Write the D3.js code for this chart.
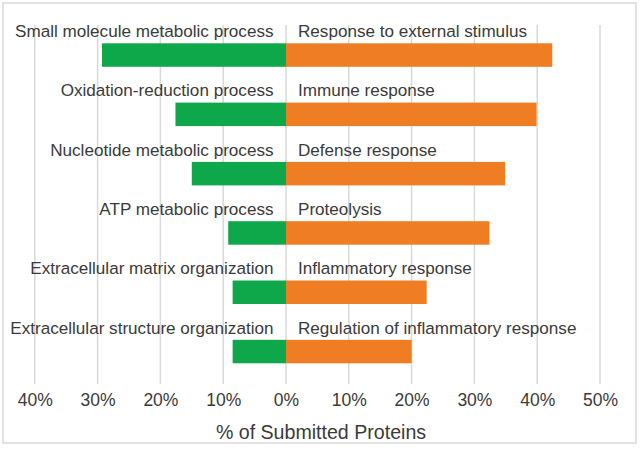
<!DOCTYPE html>
<html>
<head>
<meta charset="utf-8">
<script src="https://cdn.jsdelivr.net/npm/d3@7"></script>
<style>
  html, body { margin: 0; padding: 0; background: #fff; }
  svg { display: block; }
  text { font-family: "Liberation Sans", Arial, sans-serif; fill: #3a3a3a; }
</style>
</head>
<body>
<svg id="chart" width="641" height="450"></svg>
<script>
// Data
const leftLabels = ["Small molecule metabolic process", "Oxidation-reduction process", "Nucleotide metabolic process", "ATP metabolic process", "Extracellular matrix organization", "Extracellular structure organization"];
const leftValues = [29.3, 17.6, 15.0, 9.2, 8.5, 8.5];
const rightLabels = ["Response to external stimulus", "Immune response", "Defense response", "Proteolysis", "Inflammatory response", "Regulation of inflammatory response"];
const rightValues = [42.4, 39.9, 34.9, 32.4, 22.4, 20.0];
const tickValues = [-40, -30, -20, -10, 0, 10, 20, 30, 40, 50];
const axisTitle = "% of Submitted Proteins";

const svg = d3.select("#chart");

// frame
svg.append("rect").attr("x", 3).attr("y", 3).attr("width", 633).attr("height", 440)
  .attr("fill", "#fff").attr("stroke", "#d9d9d9").attr("stroke-width", 1.5);

const x = d3.scaleLinear().domain([-40, 50]).range([34.8, 600]);
const rows = d3.range(leftLabels.length);
const y = d3.scaleBand().domain(rows).range([25.4, 381.2]).paddingInner(0.604).paddingOuter(0.302);

// gridlines
svg.append("g").selectAll("line").data(tickValues).join("line")
  .attr("x1", d => x(d)).attr("x2", d => x(d))
  .attr("y1", 25).attr("y2", 384)
  .attr("stroke", "#d9d9d9").attr("stroke-width", 1.5);

// axis tick labels
const axis = d3.axisBottom(x).tickValues(tickValues).tickSize(0).tickPadding(0)
  .tickFormat(d => Math.abs(d) + "%");
const ax = svg.append("g").attr("transform", "translate(0,400)").call(axis);
ax.select(".domain").remove();
ax.selectAll("text").attr("font-size", 17.5).attr("dy", "0.35em").attr("fill", "#3a3a3a")
  .style("font-family", "'Liberation Sans', Arial, sans-serif");

// bars
svg.append("g").selectAll("rect").data(rows).join("rect")
  .attr("x", i => x(-leftValues[i])).attr("width", i => x(0) - x(-leftValues[i]))
  .attr("y", i => y(i)).attr("height", y.bandwidth())
  .attr("fill", "#0ea84a");
svg.append("g").selectAll("rect").data(rows).join("rect")
  .attr("x", x(0)).attr("width", i => x(rightValues[i]) - x(0))
  .attr("y", i => y(i)).attr("height", y.bandwidth())
  .attr("fill", "#ef7d24");

// labels
svg.append("g").selectAll("text").data(rows).join("text")
  .attr("x", x(0) - 12.5).attr("y", i => y(i) + y.bandwidth() / 2 - 24)
  .attr("dy", "0.35em").attr("text-anchor", "end").attr("font-size", 17.1)
  .text(i => leftLabels[i]);
svg.append("g").selectAll("text").data(rows).join("text")
  .attr("x", x(0) + 12).attr("y", i => y(i) + y.bandwidth() / 2 - 24)
  .attr("dy", "0.35em").attr("text-anchor", "start").attr("font-size", 17.1)
  .text(i => rightLabels[i]);

// axis title
svg.append("text").attr("x", 321).attr("y", 432).attr("dy", "0.35em")
  .attr("text-anchor", "middle").attr("font-size", 19.6).text(axisTitle);
</script>
</body>
</html>
